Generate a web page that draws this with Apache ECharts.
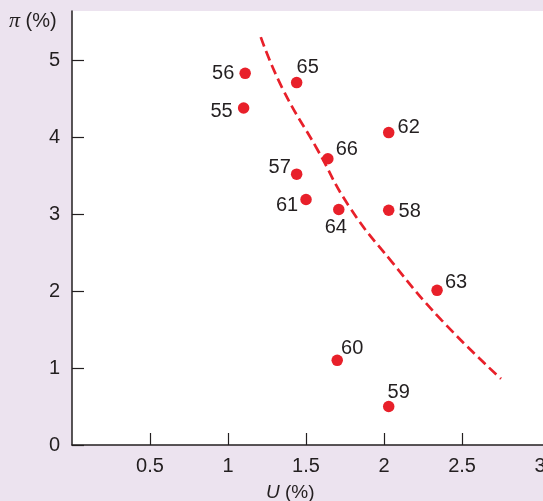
<!DOCTYPE html>
<html>
<head>
<meta charset="utf-8">
<script src="https://cdn.jsdelivr.net/npm/echarts@6/dist/echarts.min.js"></script>
<style>
html,body{margin:0;padding:0;background:#ECE3EF;}
#chart{width:543px;height:501px;}
</style>
</head>
<body>
<div id="chart"></div>
<script>
// Year labels (19xx) and their unemployment (U %) / inflation (π %) values
const years = ['55','56','57','58','59','60','61','62','63','64','65','66'];
const unemployment = [1.10, 1.11, 1.44, 2.03, 2.03, 1.70, 1.50, 2.03, 2.34, 1.71, 1.44, 1.64];
const inflation    = [4.38, 4.83, 3.52, 3.05, 0.50, 1.10, 3.19, 4.06, 2.01, 3.06, 4.71, 3.72];

// Dashed Phillips-curve trace
const curveU  = [1.21, 1.35, 1.57, 1.78, 2.05, 2.37, 2.75];
const curvePi = [5.30, 4.63, 3.85, 3.09, 2.38, 1.62, 0.86];

// Axis ticks / labels
const yTicks = [0, 1, 2, 3, 4, 5];
const xTicks = [0.5, 1, 1.5, 2, 2.5];
const xTickLabels = [0.5, 1, 1.5, 2, 2.5, 3];

// label placement offsets (layout only)
const labelOffsets = {
  '55': [-22, 4], '56': [-22, 0], '57': [-17, -7], '58': [21, 1],
  '59': [10, -14], '60': [15, -12], '61': [-19, 6], '62': [20, -5],
  '63': [19, -8], '64': [-3, 18], '65': [11, -15], '66': [19, -9]
};

const red = '#E8202A';
const ink = '#231F20';
const font = '"Liberation Sans", Arial, sans-serif';

const pointData = years.map((y, i) => ({
  value: [unemployment[i], inflation[i]],
  name: y,
  label: { offset: labelOffsets[y] }
}));

const chart = echarts.init(document.getElementById('chart'), null, {renderer: 'canvas'});
chart.setOption({
  backgroundColor: '#ECE3EF',
  animation: false,
  grid: { left: 72, top: 11, right: 0, bottom: 56, show: true, backgroundColor: '#FFFFFF', borderWidth: 0,
          containLabel: false, outerBoundsMode: 'none' },
  xAxis: {
    type: 'value', min: 0, max: 3.019,
    axisLine: { show: true, onZero: false, lineStyle: { color: ink, width: 1.5 } },
    axisTick: { show: true, inside: true, length: 12, customValues: xTicks, lineStyle: { color: ink, width: 1.2 } },
    axisLabel: { customValues: xTickLabels, margin: 11, color: ink, fontSize: 20, fontFamily: font, formatter: v => String(v), hideOverlap: false },
    splitLine: { show: false }
  },
  yAxis: {
    type: 'value', min: 0, max: 5.64,
    axisLine: { show: true, onZero: false, lineStyle: { color: ink, width: 1.5 } },
    axisTick: { show: true, inside: true, length: 12, customValues: yTicks, lineStyle: { color: ink, width: 1.2 } },
    axisLabel: { customValues: yTicks, margin: 12, color: ink, fontSize: 20, fontFamily: font },
    splitLine: { show: false }
  },
  graphic: [
    { type: 'text', left: 9, top: 10, style: {
        text: '{i|π} (%)', fill: ink, font: '20px ' + font,
        rich: { i: { fontStyle: 'italic', fontSize: 22, fontFamily: '"Liberation Serif", serif', fill: ink } }
      } },
    { type: 'text', left: 266, top: 483, style: {
        text: '{i|U} (%)', fill: ink, font: '19px ' + font,
        rich: { i: { fontStyle: 'italic', fontSize: 19, fontFamily: font, fill: ink } }
      } }
  ],
  series: [
    {
      type: 'line', data: curveU.map((u, i) => [u, curvePi[i]]),
      smooth: true, showSymbol: false, symbol: 'none', z: 2,
      lineStyle: { color: red, width: 2.7, type: [10, 5] }
    },
    {
      type: 'scatter', data: pointData, symbolSize: 11.5, z: 3,
      itemStyle: { color: red, opacity: 1 },
      label: { show: true, position: 'inside', formatter: p => p.name, color: ink, fontSize: 20, fontFamily: font }
    }
  ]
});
</script>
</body>
</html>
